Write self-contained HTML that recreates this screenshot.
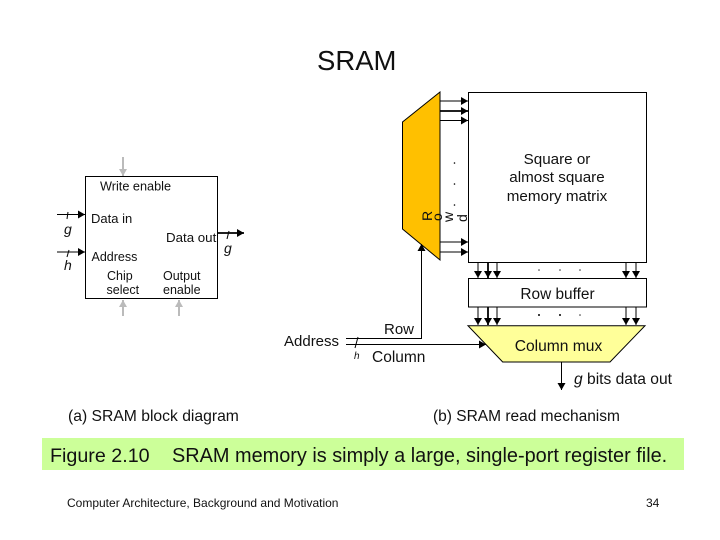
<!DOCTYPE html>
<html>
<head>
<meta charset="utf-8">
<style>
html,body{margin:0;padding:0;background:#fff}
svg{display:block}
text{font-family:"Liberation Sans",sans-serif;fill:#111}
</style>
</head>
<body>
<svg width="720" height="540" viewBox="0 0 720 540" xmlns="http://www.w3.org/2000/svg">
<defs>
<marker id="a" markerUnits="userSpaceOnUse" markerWidth="8" markerHeight="8" refX="7" refY="4" orient="auto"><path d="M0,0L7,4L0,8Z" fill="#000"/></marker>
<marker id="g" markerUnits="userSpaceOnUse" markerWidth="8" markerHeight="8" refX="7" refY="4" orient="auto"><path d="M0,0L7,4L0,8Z" fill="#bbb"/></marker>
</defs>
<rect width="720" height="540" fill="#fff"/>
<text x="317" y="70" font-size="27.500">SRAM</text>

<!-- Left block -->
<rect x="85.500" y="176.500" width="132" height="122" fill="#fff" stroke="#000" stroke-width="1"/>
<g stroke="#bbb" stroke-width="2" fill="none">
<line x1="123" y1="157" x2="123" y2="176" marker-end="url(#g)"/>
<line x1="123" y1="316" x2="123" y2="300" marker-end="url(#g)"/>
<line x1="179" y1="316" x2="179" y2="300" marker-end="url(#g)"/>
</g>
<g stroke="#000" fill="none">
<line x1="57" y1="214.500" x2="85" y2="214.500" marker-end="url(#a)"/>
<line x1="57" y1="252" x2="85" y2="252" marker-end="url(#a)"/>
<line x1="217" y1="233" x2="244" y2="233" stroke-width="1.800" marker-end="url(#a)"/>
<line x1="68" y1="212" x2="67" y2="219"/>
<line x1="69" y1="250" x2="67" y2="257"/>
<line x1="229" y1="231" x2="227" y2="239"/>
</g>
<text x="100" y="190.500" font-size="12.700">Write enable</text>
<text x="91" y="223" font-size="13">Data in</text>
<text x="166" y="242" font-size="13.300">Data out</text>
<text x="91.500" y="261" font-size="12.500">Address</text>
<text x="107" y="280" font-size="12.500">Chip</text>
<text x="106.500" y="294" font-size="12.500">select</text>
<text x="163" y="280" font-size="12.500">Output</text>
<text x="163" y="294" font-size="12.500">enable</text>
<text x="64" y="234" font-size="14" font-style="italic">g</text>
<text x="64" y="270" font-size="14" font-style="italic">h</text>
<text x="224" y="253" font-size="14" font-style="italic">g</text>

<!-- Decoder -->
<polygon points="440,92 402.500,122 402.500,229 440,260" fill="#ffc000" stroke="#000" stroke-width="1"/>
<!-- Matrix -->
<rect x="468.500" y="92.500" width="178" height="170" fill="#fff" stroke="#000" stroke-width="1"/>
<g stroke="#000" fill="none">
<line x1="440" y1="101" x2="468" y2="101" marker-end="url(#a)"/>
<line x1="440" y1="111" x2="468" y2="111" stroke-width="1.800" marker-end="url(#a)"/>
<line x1="440" y1="120.500" x2="468" y2="120.500" marker-end="url(#a)"/>
<line x1="440" y1="242" x2="468" y2="242" marker-end="url(#a)"/>
<line x1="440" y1="252" x2="468" y2="252" marker-end="url(#a)"/>
</g>
<circle cx="454.500" cy="163" r=".8" fill="#000"/>
<circle cx="454.500" cy="184" r=".8" fill="#000"/>
<circle cx="454.500" cy="205" r=".8" fill="#000"/>
<text transform="translate(432,221) rotate(-90)" font-size="14">R</text>
<text transform="translate(442,221) rotate(-90)" font-size="14">o</text>
<text transform="translate(453,222) rotate(-90)" font-size="14">w</text>
<text transform="translate(467,222) rotate(-90)" font-size="14">d</text>
<text x="557" y="164" font-size="15.200" text-anchor="middle">Square or</text>
<text x="557" y="182" font-size="15.200" text-anchor="middle">almost square</text>
<text x="557" y="201" font-size="15.200" text-anchor="middle">memory matrix</text>

<!-- Arrows matrix to row buffer -->
<g stroke="#000" fill="none">
<line x1="478" y1="262" x2="478" y2="278" marker-end="url(#a)"/>
<line x1="488" y1="262" x2="488" y2="278" stroke-width="1.800" marker-end="url(#a)"/>
<line x1="497" y1="262" x2="497" y2="278" marker-end="url(#a)"/>
<line x1="626" y1="262" x2="626" y2="278" marker-end="url(#a)"/>
<line x1="636" y1="262" x2="636" y2="278" marker-end="url(#a)"/>
<line x1="478" y1="307" x2="478" y2="325" marker-end="url(#a)"/>
<line x1="488" y1="307" x2="488" y2="325" stroke-width="1.800" marker-end="url(#a)"/>
<line x1="497" y1="307" x2="497" y2="325" marker-end="url(#a)"/>
<line x1="626" y1="307" x2="626" y2="325" marker-end="url(#a)"/>
<line x1="636" y1="307" x2="636" y2="325" marker-end="url(#a)"/>
</g>
<circle cx="539" cy="270" r=".8" fill="#333"/><circle cx="560" cy="270" r=".8" fill="#333"/><circle cx="580" cy="270" r=".8" fill="#333"/>
<circle cx="539" cy="315" r="1" fill="#000"/><circle cx="560" cy="315" r="1" fill="#000"/><circle cx="580" cy="315" r=".8" fill="#333"/>

<!-- Row buffer -->
<rect x="468.500" y="278.500" width="178" height="28.500" fill="#fff" stroke="#000" stroke-width="1"/>
<text x="557.500" y="299" font-size="15.400" text-anchor="middle">Row buffer</text>
<!-- Column mux -->
<polygon points="468,325.700 645,325.700 610,362 502.700,362" fill="#ffff99" stroke="#000" stroke-width="1"/>
<text x="558.500" y="351" font-size="15.600" text-anchor="middle">Column mux</text>

<!-- Address wiring -->
<g stroke="#000" fill="none">
<polyline points="346,338.500 421.500,338.500 421.500,244" marker-end="url(#a)"/>
<line x1="346" y1="344.500" x2="486" y2="344.500" marker-end="url(#a)"/>
<line x1="358" y1="337" x2="355" y2="348"/>
<line x1="561.500" y1="362" x2="561.500" y2="390" marker-end="url(#a)"/>
</g>
<text x="284" y="346" font-size="15">Address</text>
<text x="384" y="334" font-size="15">Row</text>
<text x="372" y="362" font-size="15.500">Column</text>
<text x="354" y="359" font-size="10" font-style="italic">h</text>
<text x="574" y="384" font-size="15.600"><tspan font-style="italic">g</tspan> bits data out</text>

<text x="68" y="421" font-size="15.700">(a) SRAM block diagram</text>
<text x="433" y="421" font-size="15.500">(b) SRAM read mechanism</text>

<rect x="42" y="438" width="642" height="32" fill="#ccff99"/>
<text x="50" y="462" font-size="19.700">Figure 2.10</text>
<text x="172" y="462" font-size="19.900">SRAM memory is simply a large, single-port register file.</text>

<text x="67" y="507" font-size="12">Computer Architecture, Background and Motivation</text>
<text x="646" y="507" font-size="12">34</text>
</svg>
</body>
</html>
